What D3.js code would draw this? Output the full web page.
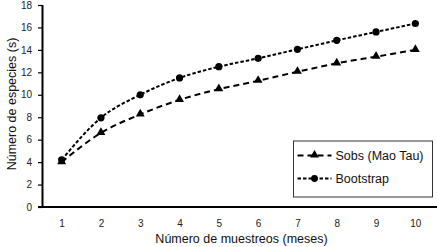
<!DOCTYPE html>
<html>
<head>
<meta charset="utf-8">
<script src="https://cdn.jsdelivr.net/npm/d3@7"></script>
<style>
  body { margin: 0; background: #fff; }
  svg { display: block; font-family: "Liberation Sans", Arial, sans-serif; }
</style>
</head>
<body>
<div id="chart"></div>
<script>
// Data
const months = [1, 2, 3, 4, 5, 6, 7, 8, 9, 10];
const sobs = [4.0, 6.6, 8.25, 9.55, 10.5, 11.25, 12.05, 12.8, 13.4, 14.0];
const bootstrap = [4.2, 7.95, 10.0, 11.5, 12.5, 13.25, 14.05, 14.85, 15.6, 16.35];
const yTicks = [0, 2, 4, 6, 8, 10, 12, 14, 16, 18];

const width = 437, height = 247;
const margin = { top: 5, right: 2, bottom: 40, left: 42 };

const svg = d3.select("#chart")
    .append("svg")
    .attr("width", width)
    .attr("height", height);

// Scales
const x = d3.scalePoint()
    .domain(months)
    .range([margin.left, width - margin.right])
    .padding(0.5);

const y = d3.scaleLinear()
    .domain([0, 18])
    .range([height - margin.bottom, margin.top]);

// Y axis
const yAxis = svg.append("g")
    .attr("transform", `translate(${margin.left},0)`)
    .call(d3.axisLeft(y).tickValues(yTicks).tickSize(4).tickPadding(6));
yAxis.select(".domain").attr("stroke", "#000").attr("stroke-width", 2)
    .attr("d", `M0.5,${y(18)}V${y(0)}`);
yAxis.selectAll(".tick line").attr("stroke", "#000").attr("stroke-width", 1.2);
yAxis.selectAll(".tick text").attr("font-size", 10).attr("fill", "#222");

// X axis
const xAxis = svg.append("g")
    .attr("transform", `translate(0,${y(0)})`)
    .call(d3.axisBottom(x).tickSize(0).tickPadding(13));
xAxis.select(".domain").attr("stroke", "#000").attr("stroke-width", 2)
    .attr("d", `M${margin.left - 4},0H${width}`);
xAxis.selectAll(".tick text").attr("font-size", 10).attr("fill", "#222");

// Axis titles
svg.append("text")
    .attr("x", (margin.left + width) / 2 + 2)
    .attr("y", 243)
    .attr("text-anchor", "middle")
    .attr("font-size", 12.5)
    .attr("fill", "#111")
    .text("Número de muestreos (meses)");

svg.append("text")
    .attr("transform", `translate(16,${y(9) - 2}) rotate(-90)`)
    .attr("text-anchor", "middle")
    .attr("font-size", 12.5)
    .attr("fill", "#111")
    .text("Número de especies (s)");

// Lines
const line = d3.line()
    .x((d, i) => x(months[i]))
    .y(d => y(d))
    .curve(d3.curveMonotoneX);

svg.append("path")
    .datum(sobs)
    .attr("fill", "none")
    .attr("stroke", "#000")
    .attr("stroke-width", 2)
    .attr("stroke-dasharray", "6,4")
    .attr("d", line);

svg.append("path")
    .datum(bootstrap)
    .attr("fill", "none")
    .attr("stroke", "#000")
    .attr("stroke-width", 2)
    .attr("stroke-dasharray", "3.5,2")
    .attr("d", line);

// Markers
const tri = d3.symbol().type(d3.symbolTriangle).size(34);

svg.selectAll(".tri")
    .data(sobs)
    .enter()
    .append("path")
    .attr("class", "tri")
    .attr("d", tri)
    .attr("transform", (d, i) => `translate(${x(months[i])},${y(d) - 0.5})`)
    .attr("fill", "#000");

svg.selectAll(".dot")
    .data(bootstrap)
    .enter()
    .append("circle")
    .attr("class", "dot")
    .attr("cx", (d, i) => x(months[i]))
    .attr("cy", d => y(d))
    .attr("r", 3.6)
    .attr("fill", "#000");

// Legend
const legend = svg.append("g").attr("transform", "translate(293.5,141)");
legend.append("rect")
    .attr("width", 139)
    .attr("height", 56)
    .attr("fill", "#fff")
    .attr("stroke", "#333")
    .attr("stroke-width", 1);

const legendItems = [
    { name: "Sobs (Mao Tau)", dash: "6,4", marker: "tri", y: 14.5 },
    { name: "Bootstrap", dash: "3.5,2", marker: "dot", y: 37.5 }
];

legendItems.forEach(item => {
    const g = legend.append("g").attr("transform", `translate(0,${item.y})`);
    g.append("line")
        .attr("x1", 4).attr("x2", 38)
        .attr("stroke", "#000")
        .attr("stroke-width", 2)
        .attr("stroke-dasharray", item.dash);
    if (item.marker === "tri") {
        g.append("path").attr("d", tri).attr("transform", "translate(21,-0.5)").attr("fill", "#000");
    } else {
        g.append("circle").attr("cx", 21).attr("r", 3.4).attr("fill", "#000");
    }
    g.append("text")
        .attr("x", 42)
        .attr("dy", "0.35em")
        .attr("font-size", 12.5)
        .attr("fill", "#111")
        .text(item.name);
});
</script>
</body>
</html>
